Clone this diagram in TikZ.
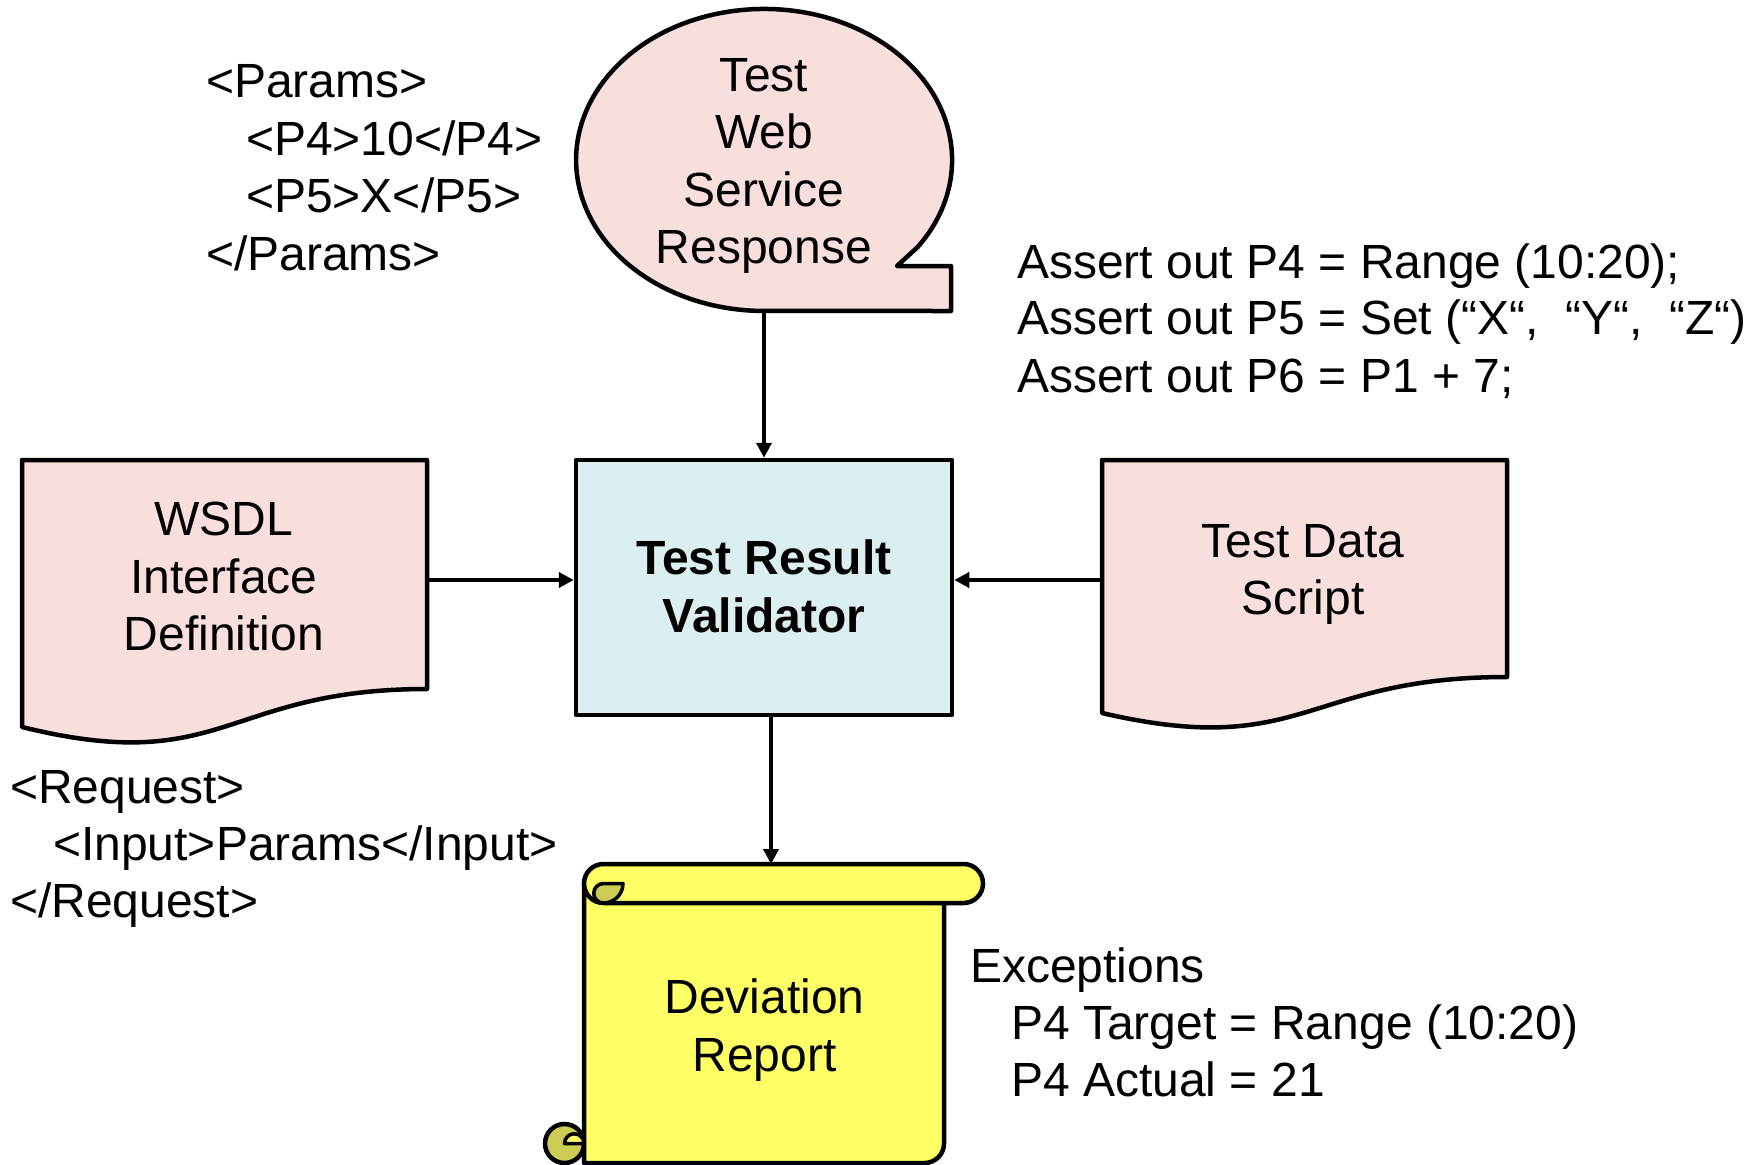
\documentclass[tikz,border=0pt]{standalone}
\usepackage{fontspec}
\setmainfont{Liberation Sans}
\usetikzlibrary{arrows.meta}
\definecolor{pinkfill}{HTML}{F9DEDE}
\definecolor{bluefill}{HTML}{DBEEF0}
\definecolor{scrollyellow}{HTML}{FFFF66}
\definecolor{scrolldark}{HTML}{CCCC55}
\begin{document}
\begin{tikzpicture}[x=1pt,y=-1pt,
  shp/.style={draw=black, line width=4.5pt, line join=round},
  thinshp/.style={draw=black, line width=3.5pt, line join=round},
  conn/.style={draw=black, line width=4pt, -{Triangle[length=15pt,width=15pt]}},
  txt/.style={inner sep=0pt, font=\fontsize{48}{57}\selectfont},
  ltxt/.style={txt, anchor=base west},
  ctxt/.style={txt, anchor=base},
  btxt/.style={ctxt, font=\fontsize{48}{57}\selectfont\bfseries}
]
\useasboundingbox (0,0) rectangle (1760,1164);

% speech bubble
\path[shp, fill=pinkfill] (917.7,247) arc[start angle=35.2, end angle=-270, x radius=188, y radius=151]
  -- (951,311) -- (951,266) -- (897,266) -- cycle;
\coordinate (bubB) at (764,311);

% validator
\node[shp, fill=bluefill, minimum width=376pt, minimum height=255pt, inner sep=0pt] (val) at (764,587.5) {};

% WSDL document
\path[shp, fill=pinkfill] (22,460) -- (427,460) -- (427,689)
  .. controls (224.5,689) and (224.5,777) .. (22,727) -- cycle;
\coordinate (wsdlR) at (427,580);

% Test data document
\path[shp, fill=pinkfill] (1102,460) -- (1507,460) -- (1507,677)
  .. controls (1304.5,677) and (1304.5,760) .. (1102,713) -- cycle;
\coordinate (tdL) at (1102,580);

% scroll
\path[shp, fill=scrollyellow] (584,883.5) -- (944,883.5) -- (944,1143.5)
  arc[start angle=0, end angle=90, radius=19.5] -- (584,1163) -- cycle;
\path[shp, fill=scrolldark] (564.5,1143.5) circle[radius=19.5];
\path[thinshp, fill=scrollyellow] (564.5,1143.5) arc[start angle=180, end angle=360, radius=9.75] -- cycle;
\path[shp, fill=scrollyellow] (603.5,864) -- (963.5,864)
  arc[start angle=-90, end angle=90, radius=19.5] -- (603.5,903)
  arc[start angle=90, end angle=270, radius=19.5] -- cycle;
\path[thinshp, fill=scrolldark] (623,883.5) arc[start angle=0, end angle=90, radius=19.5]
  arc[start angle=90, end angle=270, radius=9.75] -- cycle;
\coordinate (scrT) at (771,864);

% connectors
\draw[conn] (bubB) -- (val.north);
\draw[conn] (wsdlR) -- (wsdlR -| val.west);
\draw[conn] (tdL) -- (tdL -| val.east);
\draw[conn] (val.south -| scrT) -- (scrT);

% texts
\node[ltxt] (pa1) at (206,97) {<Params>};
\node[ltxt] (pa2) at (246,155) {<P4>10</P4>};
\node[ltxt] (pa3) at (246,212) {<P5>X</P5>};
\node[ltxt] (pa4) at (206,270) {</Params>};

\node[ctxt] (bt1) at (764,92) {Test};
\node[ctxt] (bt2) at (764,148) {Web};
\node[ctxt] (bt3) at (764,206) {Service};
\node[ctxt] (bt4) at (764,263) {Response};

\node[ltxt] (as1) at (1017,278) {Assert out P4 = Range (10:20);};
\node[ltxt] (as2) at (1017,334) {Assert out P5 = Set (“X“,\ \ “Y“,\ \ “Z“)};
\node[ltxt] (as3) at (1017,392) {Assert out P6 = P1 + 7;};

\node[ctxt] (wt1) at (224,535) {WSDL};
\node[ctxt] (wt2) at (224,593) {Interface};
\node[ctxt] (wt3) at (224,650) {Definition};

\node[btxt] (vt1) at (764,574) {Test Result};
\node[btxt] (vt2) at (764,632) {Validator};

\node[ctxt] (tt1) at (1303,557) {Test Data};
\node[ctxt] (tt2) at (1303,614) {Script};

\node[ltxt] (rq1) at (10,803) {<Request>};
\node[ltxt] (rq2) at (53,860) {<Input>Params</Input>};
\node[ltxt] (rq3) at (10,917) {</Request>};

\node[ctxt] (dr1) at (764.5,1013) {Deviation};
\node[ctxt] (dr2) at (764.5,1071) {Report};

\node[ltxt] (ex1) at (970,982) {Exceptions};
\node[ltxt] (ex2) at (1011,1039) {P4 Target = Range (10:20)};
\node[ltxt] (ex3) at (1011,1096) {P4 Actual = 21};
\end{tikzpicture}
\end{document}
